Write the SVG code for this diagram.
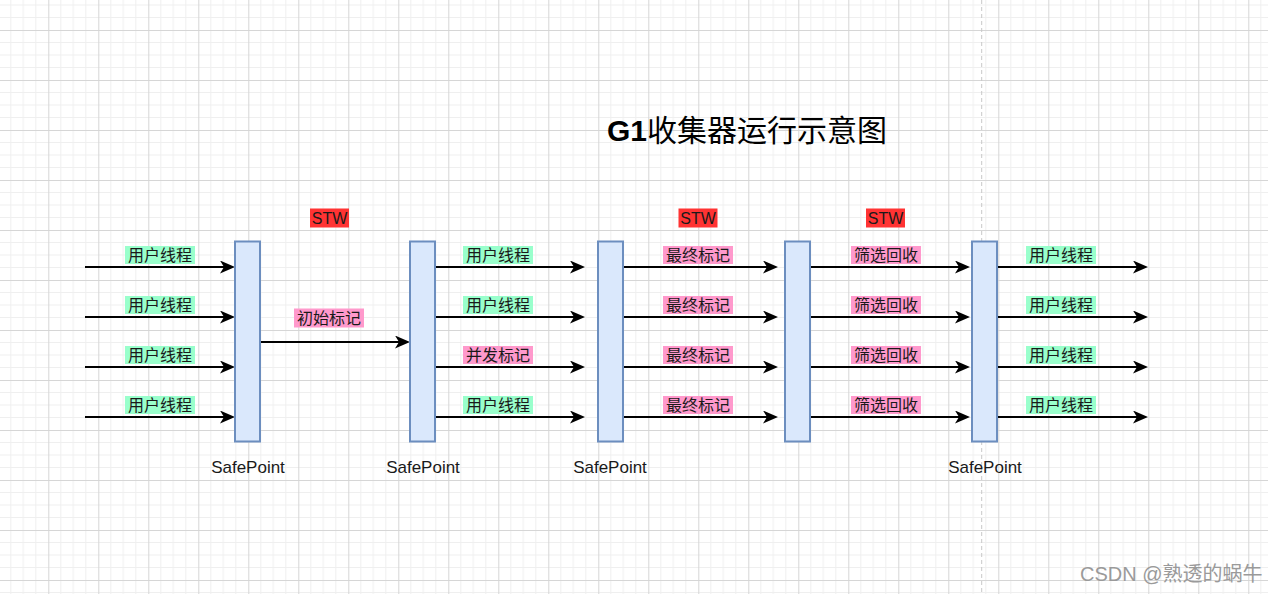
<svg xmlns="http://www.w3.org/2000/svg" width="1268" height="594" viewBox="0 0 1268 594">
<style>
.bar{fill:#dae8fc;stroke:#6c8ebf;stroke-width:2}
.ln{stroke:#000;stroke-width:2;fill:none;marker-end:url(#ah)}
.lb{font-family:"Liberation Sans","Noto Sans CJK SC",sans-serif;font-size:16px;fill:#1a1a1a;text-anchor:middle}
.sp{font-family:"Liberation Sans","Noto Sans CJK SC",sans-serif;font-size:17px;fill:#1a1a1a;text-anchor:middle}
.g{fill:#99ffcc}
.p{fill:#ff99cc}
.r{fill:#ff3333}
</style>
<defs>
<pattern id="grid" patternUnits="userSpaceOnUse" x="-1.7" y="30" width="50" height="50">
<rect width="50" height="50" fill="#fff"/>
<path d="M12.5 0V50M25 0V50M37.5 0V50M0 12.5H50M0 25H50M0 37.5H50" stroke="#efefef" stroke-width="1"/>
<path d="M0.5 0V50M0 0.5H50" stroke="#d6d6d6" stroke-width="1"/>
</pattern>
<marker id="ah" markerUnits="userSpaceOnUse" markerWidth="15" markerHeight="13" refX="9" refY="6.5" orient="auto">
<path d="M0,0 L15,6.5 L0,13 L4,6.5 Z" fill="#000"/>
</marker>
</defs>
<rect width="1268" height="594" fill="url(#grid)"/>
<line x1="981.7" y1="0" x2="981.7" y2="594" stroke="#c8c8c8" stroke-width="1" stroke-dasharray="4 3"/>

<g id="title">
<text x="607" y="141" font-family="'Liberation Sans','Noto Sans CJK SC',sans-serif" font-size="30" fill="#000"><tspan font-weight="bold">G1</tspan>收集器运行示意图</text>
</g>

<g id="connectors">
<path class="ln" d="M85 267H229"/><path class="ln" d="M85 317H229"/><path class="ln" d="M85 367H229"/><path class="ln" d="M85 417H229"/>
<path class="ln" d="M260 342H404"/>
<path class="ln" d="M435 267H579"/><path class="ln" d="M435 317H579"/><path class="ln" d="M435 367H579"/><path class="ln" d="M435 417H579"/>
<path class="ln" d="M623 267H772"/><path class="ln" d="M623 317H772"/><path class="ln" d="M623 367H772"/><path class="ln" d="M623 417H772"/>
<path class="ln" d="M810 267H964"/><path class="ln" d="M810 317H964"/><path class="ln" d="M810 367H964"/><path class="ln" d="M810 417H964"/>
<path class="ln" d="M997 267H1142"/><path class="ln" d="M997 317H1142"/><path class="ln" d="M997 367H1142"/><path class="ln" d="M997 417H1142"/>
</g>

<g id="sp1"><rect class="bar" x="235" y="241.5" width="25" height="200"/><text class="sp" x="248" y="473">SafePoint</text></g>
<g id="sp2"><rect class="bar" x="410" y="241.5" width="25" height="200"/><text class="sp" x="423" y="473">SafePoint</text></g>
<g id="sp3"><rect class="bar" x="598" y="241.5" width="25" height="200"/><text class="sp" x="610" y="473">SafePoint</text></g>
<g id="sp4"><rect class="bar" x="785" y="241.5" width="25" height="200"/></g>
<g id="sp5"><rect class="bar" x="972" y="241.5" width="25" height="200"/><text class="sp" x="985" y="473">SafePoint</text></g>

<g id="labels-left">
<rect class="g" x="125" y="246" width="70" height="18"/><text class="lb" x="160" y="261">用户线程</text>
<rect class="g" x="125" y="296" width="70" height="18"/><text class="lb" x="160" y="311">用户线程</text>
<rect class="g" x="125" y="346" width="70" height="18"/><text class="lb" x="160" y="361">用户线程</text>
<rect class="g" x="125" y="396" width="70" height="18"/><text class="lb" x="160" y="411">用户线程</text>
</g>
<g id="label-init">
<rect class="r" x="310" y="208.5" width="39" height="19"/><text class="lb" x="329.5" y="224">STW</text>
<rect class="p" x="294" y="308.5" width="70" height="19"/><text class="lb" x="329" y="324">初始标记</text>
</g>
<g id="labels-concurrent">
<rect class="g" x="463" y="246" width="70" height="18"/><text class="lb" x="498" y="261">用户线程</text>
<rect class="g" x="463" y="296" width="70" height="18"/><text class="lb" x="498" y="311">用户线程</text>
<rect class="p" x="463" y="346" width="70" height="18"/><text class="lb" x="498" y="361">并发标记</text>
<rect class="g" x="463" y="396" width="70" height="18"/><text class="lb" x="498" y="411">用户线程</text>
</g>
<g id="labels-final">
<rect class="r" x="678.5" y="208.5" width="39" height="19"/><text class="lb" x="698" y="224">STW</text>
<rect class="p" x="663" y="246" width="70" height="18"/><text class="lb" x="698" y="261">最终标记</text>
<rect class="p" x="663" y="296" width="70" height="18"/><text class="lb" x="698" y="311">最终标记</text>
<rect class="p" x="663" y="346" width="70" height="18"/><text class="lb" x="698" y="361">最终标记</text>
<rect class="p" x="663" y="396" width="70" height="18"/><text class="lb" x="698" y="411">最终标记</text>
</g>
<g id="labels-cleanup">
<rect class="r" x="866" y="208.5" width="39" height="19"/><text class="lb" x="885.5" y="224">STW</text>
<rect class="p" x="851" y="246" width="70" height="18"/><text class="lb" x="886" y="261">筛选回收</text>
<rect class="p" x="851" y="296" width="70" height="18"/><text class="lb" x="886" y="311">筛选回收</text>
<rect class="p" x="851" y="346" width="70" height="18"/><text class="lb" x="886" y="361">筛选回收</text>
<rect class="p" x="851" y="396" width="70" height="18"/><text class="lb" x="886" y="411">筛选回收</text>
</g>
<g id="labels-right">
<rect class="g" x="1026" y="246" width="70" height="18"/><text class="lb" x="1061" y="261">用户线程</text>
<rect class="g" x="1026" y="296" width="70" height="18"/><text class="lb" x="1061" y="311">用户线程</text>
<rect class="g" x="1026" y="346" width="70" height="18"/><text class="lb" x="1061" y="361">用户线程</text>
<rect class="g" x="1026" y="396" width="70" height="18"/><text class="lb" x="1061" y="411">用户线程</text>
</g>
<g id="watermark">
<text x="1080" y="581" font-family="'Liberation Sans','Noto Sans CJK SC',sans-serif" font-size="20" fill="#9a9a9a">CSDN @熟透的蜗牛</text>
</g>
</svg>
